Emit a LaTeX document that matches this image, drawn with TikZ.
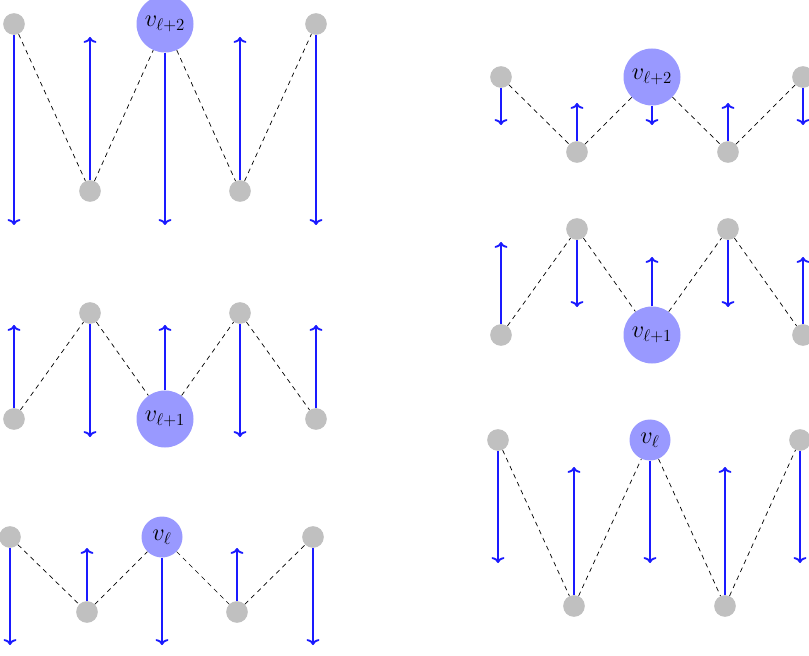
\documentclass[tikz,border=0pt]{standalone}
\usepackage{amsmath,amssymb}
\usepackage{xcolor}
\usepackage{tikz}
\usetikzlibrary{arrows.meta}
\definecolor{sitegray}{HTML}{C0C0C0}
\definecolor{sitefill}{HTML}{9999FF}
\definecolor{spinblue}{HTML}{1A1AFF}

\begin{document}
\begin{tikzpicture}[
        x=0.03cm, y=-0.03cm,
        site/.style={circle, fill=sitegray, inner sep=0pt, minimum size=0.65cm},
        bigsite/.style={circle, fill=sitefill, inner sep=0pt, minimum size=1.71cm, font=\fontsize{20}{24}\selectfont},
        midsite/.style={circle, fill=sitefill, inner sep=0pt, minimum size=1.23cm, font=\fontsize{20}{24}\selectfont},
        bond/.style={line width=0.6pt, dash pattern=on 4pt off 3.5pt, black},
        spin/.style={-{To[width=11pt, length=5pt]}, line width=1.6pt, color=spinblue}
    ]
        \useasboundingbox (0,0) rectangle (809,656);

        % left column, top row
        \node[site] (a1) at (14,24) {};
        \node[site] (a2) at (90,191) {};
        \node[bigsite] (a3) at (165,24) {$v_{\ell+2}$};
        \node[site] (a4) at (240,191) {};
        \node[site] (a5) at (316,24) {};
        \coordinate (a1e) at (14,225);
        \coordinate (a2e) at (90,37);
        \coordinate (a3e) at (165,225);
        \coordinate (a4e) at (240,37);
        \coordinate (a5e) at (316,225);

        % left column, middle row
        \node[site] (b1) at (14,419) {};
        \node[site] (b2) at (90,313) {};
        \node[bigsite] (b3) at (165,419) {$v_{\ell+1}$};
        \node[site] (b4) at (240,313) {};
        \node[site] (b5) at (316,419) {};
        \coordinate (b1e) at (14,325);
        \coordinate (b2e) at (90,437);
        \coordinate (b3e) at (165,325);
        \coordinate (b4e) at (240,437);
        \coordinate (b5e) at (316,325);

        % left column, bottom row
        \node[site] (c1) at (10,537) {};
        \node[site] (c2) at (87,612) {};
        \node[midsite] (c3) at (162,537) {$v_{\ell}$};
        \node[site] (c4) at (237,612) {};
        \node[site] (c5) at (313,537) {};
        \coordinate (c1e) at (10,645);
        \coordinate (c2e) at (87,548);
        \coordinate (c3e) at (162,645);
        \coordinate (c4e) at (237,548);
        \coordinate (c5e) at (313,645);

        % right column, top row
        \node[site] (d1) at (501,77) {};
        \node[site] (d2) at (577,152) {};
        \node[bigsite] (d3) at (652,77) {$v_{\ell+2}$};
        \node[site] (d4) at (728,152) {};
        \node[site] (d5) at (803,77) {};
        \coordinate (d1e) at (501,125);
        \coordinate (d2e) at (577,103);
        \coordinate (d3e) at (652,125);
        \coordinate (d4e) at (728,103);
        \coordinate (d5e) at (803,125);

        % right column, middle row
        \node[site] (e1) at (501,335) {};
        \node[site] (e2) at (577,229) {};
        \node[bigsite] (e3) at (652,335) {$v_{\ell+1}$};
        \node[site] (e4) at (728,229) {};
        \node[site] (e5) at (803,335) {};
        \coordinate (e1e) at (501,242);
        \coordinate (e2e) at (577,307);
        \coordinate (e3e) at (652,257);
        \coordinate (e4e) at (728,307);
        \coordinate (e5e) at (803,257);

        % right column, bottom row
        \node[site] (f1) at (498,440) {};
        \node[site] (f2) at (574,606) {};
        \node[midsite] (f3) at (650,440) {$v_{\ell}$};
        \node[site] (f4) at (725,606) {};
        \node[site] (f5) at (800,440) {};
        \coordinate (f1e) at (498,563);
        \coordinate (f2e) at (574,467);
        \coordinate (f3e) at (650,563);
        \coordinate (f4e) at (725,467);
        \coordinate (f5e) at (800,563);

        % bonds
        \draw[bond] (a1) -- (a2) -- (a3) -- (a4) -- (a5);
        \draw[bond] (b1) -- (b2) -- (b3) -- (b4) -- (b5);
        \draw[bond] (c1) -- (c2) -- (c3) -- (c4) -- (c5);
        \draw[bond] (d1) -- (d2) -- (d3) -- (d4) -- (d5);
        \draw[bond] (e1) -- (e2) -- (e3) -- (e4) -- (e5);
        \draw[bond] (f1) -- (f2) -- (f3) -- (f4) -- (f5);

        % spins
        \draw[spin] (a1) -- (a1e);
        \draw[spin] (a2) -- (a2e);
        \draw[spin] (a3) -- (a3e);
        \draw[spin] (a4) -- (a4e);
        \draw[spin] (a5) -- (a5e);
        \draw[spin] (b1) -- (b1e);
        \draw[spin] (b2) -- (b2e);
        \draw[spin] (b3) -- (b3e);
        \draw[spin] (b4) -- (b4e);
        \draw[spin] (b5) -- (b5e);
        \draw[spin] (c1) -- (c1e);
        \draw[spin] (c2) -- (c2e);
        \draw[spin] (c3) -- (c3e);
        \draw[spin] (c4) -- (c4e);
        \draw[spin] (c5) -- (c5e);
        \draw[spin] (d1) -- (d1e);
        \draw[spin] (d2) -- (d2e);
        \draw[spin] (d3) -- (d3e);
        \draw[spin] (d4) -- (d4e);
        \draw[spin] (d5) -- (d5e);
        \draw[spin] (e1) -- (e1e);
        \draw[spin] (e2) -- (e2e);
        \draw[spin] (e3) -- (e3e);
        \draw[spin] (e4) -- (e4e);
        \draw[spin] (e5) -- (e5e);
        \draw[spin] (f1) -- (f1e);
        \draw[spin] (f2) -- (f2e);
        \draw[spin] (f3) -- (f3e);
        \draw[spin] (f4) -- (f4e);
        \draw[spin] (f5) -- (f5e);
    \end{tikzpicture}
\end{document}
